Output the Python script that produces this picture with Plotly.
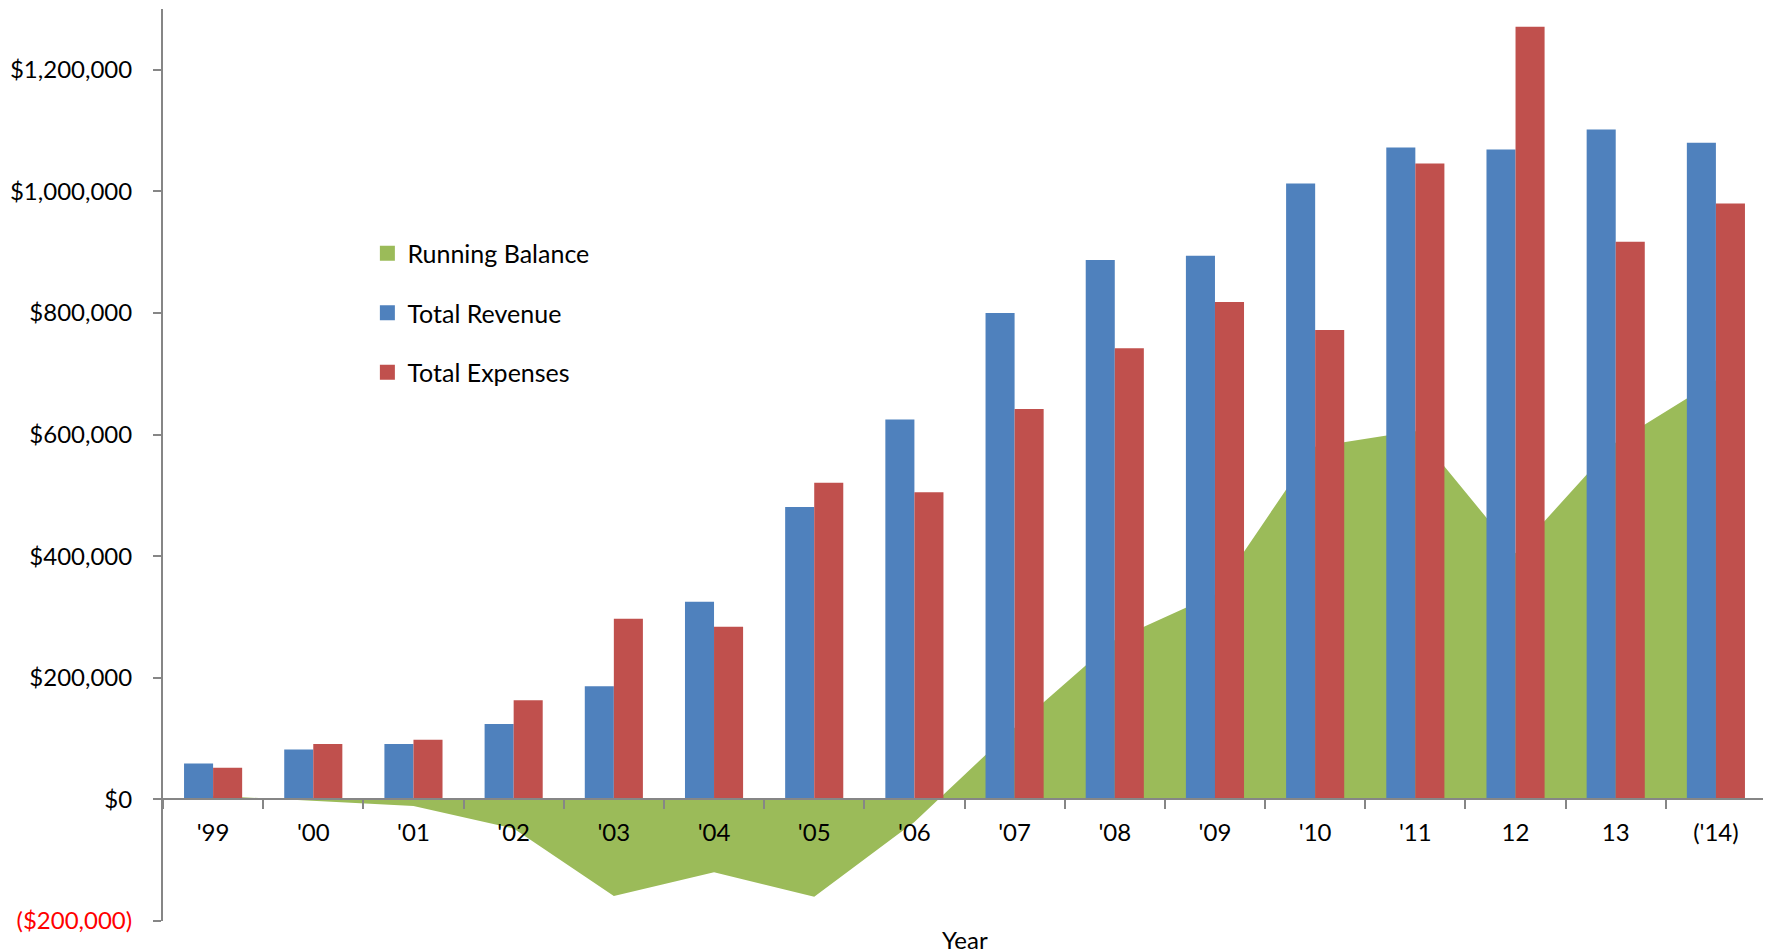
import plotly.graph_objects as go

years = ["'99", "'00", "'01", "'02", "'03", "'04", "'05", "'06", "'07", "'08",
         "'09", "'10", "'11", "12", "13", "('14)"]
revenue = [59000, 82000, 91000, 124000, 186000, 325000, 481000, 625000, 800000,
           887000, 894000, 1013000, 1072000, 1069000, 1102000, 1080000]
expenses = [52000, 91000, 98000, 163000, 297000, 284000, 521000, 505000, 642000,
            742000, 818000, 772000, 1046000, 1271000, 917000, 980000]
balance = [6000, -2000, -11000, -48000, -159000, -120000, -160000, -37000, 118000,
           262000, 337000, 580000, 606000, 405000, 587000, 689000]

y_tickvals = [-200000, 0, 200000, 400000, 600000, 800000, 1000000, 1200000]
y_ticktext = ['<span style="color:#FF0000">($200,000)</span>', "$0", "$200,000",
              "$400,000", "$600,000", "$800,000", "$1,000,000", "$1,200,000"]

GREEN = "#9BBB59"
BLUE = "#4F81BD"
RED = "#C0504D"
AXIS = "#868686"
FONT = "Lato"
FS = 24

fig = go.Figure()

# area on the base axes (drawn beneath the bars)
fig.add_trace(go.Scatter(x=years, y=balance, fill="tozeroy", mode="lines",
                         line=dict(width=0, color=GREEN), fillcolor=GREEN,
                         showlegend=False, xaxis="x", yaxis="y"))
# bars on overlaid axes (drawn on top)
fig.add_trace(go.Bar(x=years, y=revenue, marker_color=BLUE, marker_line_width=0,
                     showlegend=False, xaxis="x2", yaxis="y2"))
fig.add_trace(go.Bar(x=years, y=expenses, marker_color=RED, marker_line_width=0,
                     showlegend=False, xaxis="x2", yaxis="y2"))

# legend entries
for name, col in [("Running Balance", GREEN), ("Total Revenue", BLUE), ("Total Expenses", RED)]:
    fig.add_trace(go.Scatter(x=[None], y=[None], mode="markers", name=name,
                             marker=dict(symbol="square", size=15, color=col),
                             legendgroup=name, xaxis="x", yaxis="y"))

yrange = [-200000, 1300000]

fig.update_layout(
    width=1763, height=944,
    margin=dict(l=155, r=5, t=1, b=31),
    paper_bgcolor="white", plot_bgcolor="white",
    font=dict(family=FONT, size=FS, color="#000000"),
    barmode="group", bargap=0.42, bargroupgap=0,
    showlegend=True,
    legend=dict(x=0.1275, y=0.757, xanchor="left", yanchor="top",
                font=dict(family=FONT, size=25, color="#000000"),
                tracegroupgap=24, itemwidth=30, bgcolor="rgba(0,0,0,0)"),
    xaxis=dict(type="category", categoryorder="array", categoryarray=years,
               range=[-0.5, 15.5], anchor="free", position=200000 / 1500000,
               showline=True, linecolor=AXIS, linewidth=2,
               ticks="outside", tickson="boundaries", ticklen=9, tickwidth=2,
               tickcolor=AXIS, showgrid=False, zeroline=False,
               ticklabelstandoff=12,
               tickfont=dict(family=FONT, size=FS, color="#000000")),
    yaxis=dict(range=yrange, tickvals=y_tickvals, ticktext=y_ticktext,
               showline=True, linecolor=AXIS, linewidth=2,
               ticks="outside", ticklen=8, tickwidth=2, tickcolor=AXIS,
               showgrid=False, zeroline=False, ticklabelstandoff=16,
               tickfont=dict(family=FONT, size=FS, color="#000000")),
    xaxis2=dict(type="category", categoryorder="array", categoryarray=years,
                range=[-0.5, 15.5], overlaying="x", anchor="y2", visible=False),
    yaxis2=dict(range=yrange, overlaying="y", anchor="x2", visible=False),
    annotations=[dict(text="Year", xref="paper", yref="paper", x=0.5, y=-0.0023,
                      xanchor="center", yanchor="top", showarrow=False,
                      font=dict(family=FONT, size=FS, color="#000000"))],
)

fig.write_html("out.html")
